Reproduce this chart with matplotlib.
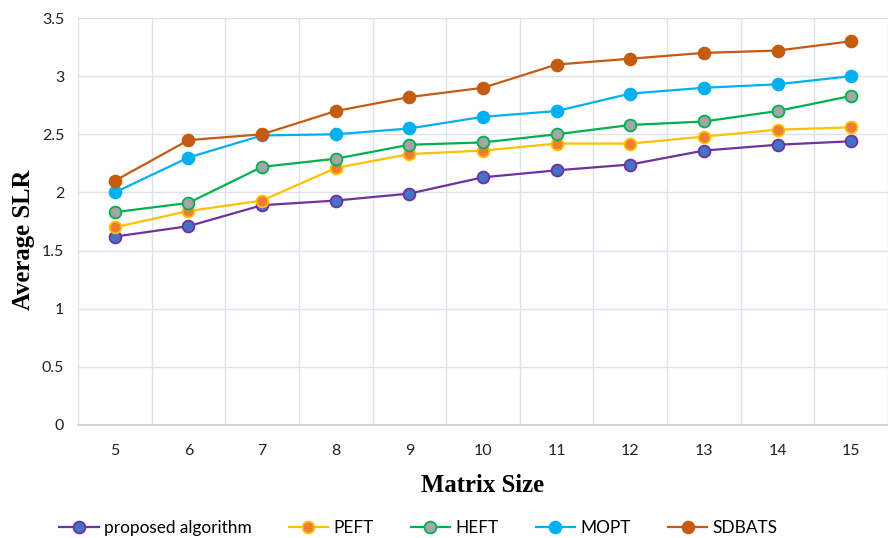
import matplotlib
matplotlib.use("Agg")
import matplotlib.pyplot as plt

# data
sizes = [5, 6, 7, 8, 9, 10, 11, 12, 13, 14, 15]
proposed = [1.62, 1.71, 1.89, 1.93, 1.99, 2.13, 2.19, 2.24, 2.36, 2.41, 2.44]
peft = [1.70, 1.84, 1.93, 2.21, 2.33, 2.36, 2.42, 2.42, 2.48, 2.54, 2.56]
heft = [1.83, 1.91, 2.22, 2.29, 2.41, 2.43, 2.50, 2.58, 2.61, 2.70, 2.83]
mopt = [2.00, 2.30, 2.49, 2.50, 2.55, 2.65, 2.70, 2.85, 2.90, 2.93, 3.00]
sdbats = [2.10, 2.45, 2.50, 2.70, 2.82, 2.90, 3.10, 3.15, 3.20, 3.22, 3.30]
yticks = [0, 0.5, 1, 1.5, 2, 2.5, 3, 3.5]

series = [
    ("proposed algorithm", proposed, "#7030A0", "#4472C4"),
    ("PEFT", peft, "#FFC000", "#ED7D31"),
    ("HEFT", heft, "#00B050", "#A5A5A5"),
    ("MOPT", mopt, "#00B0F0", "#00B0F0"),
    ("SDBATS", sdbats, "#C55A11", "#C55A11"),
]

plt.rcParams['font.family'] = ['Lato', 'DejaVu Sans']

fig = plt.figure(figsize=(8.88, 5.38), dpi=100)
ax = fig.add_axes([78/888, 1-425/538, 1-78/888, (425-18)/538])

x = list(range(len(sizes)))
for name, vals, lc, fc in series:
    ax.plot(x, vals, color=lc, lw=1.6, marker='o', markersize=8.5,
            markerfacecolor=fc, markeredgecolor=lc, markeredgewidth=1.3,
            label=name, zorder=3)

ax.set_xlim(-0.5, 10.45)
ax.set_ylim(0, 3.5)
ax.set_yticks(yticks)
ax.set_yticklabels(['%g' % v for v in yticks])
ax.set_xticks(x)
ax.set_xticklabels([str(s) for s in sizes])
ax.set_xticks([i + 0.5 for i in range(-1, len(sizes))], minor=True)

ax.grid(True, which='major', axis='y', color='#DDE1EA', lw=1)
ax.grid(True, which='minor', axis='x', color='#DDE1EA', lw=1)
ax.set_axisbelow(True)
for s in ['top', 'right', 'left']:
    ax.spines[s].set_visible(False)
ax.spines['bottom'].set_color('#D0D3D8')
ax.spines['bottom'].set_linewidth(1.3)
ax.tick_params(axis='both', which='both', length=0, labelsize=11.5, colors='#222222')
ax.tick_params(axis='x', pad=14)
ax.tick_params(axis='y', pad=10)

ax.set_xlabel('Matrix Size', family='Liberation Serif', fontweight='bold',
              fontsize=17.8, labelpad=11)
ax.set_ylabel('Average SLR', family='Liberation Serif', fontweight='bold',
              fontsize=17.8)
ax.yaxis.set_label_coords(-0.053, 0.4545)

leg = fig.legend(loc='center', bbox_to_anchor=(0.471, 1-528/538), ncol=5,
                 frameon=False, fontsize=12.4, handlelength=2.3,
                 columnspacing=2.15, handletextpad=0.3)

fig.savefig('out.png', dpi=100)
